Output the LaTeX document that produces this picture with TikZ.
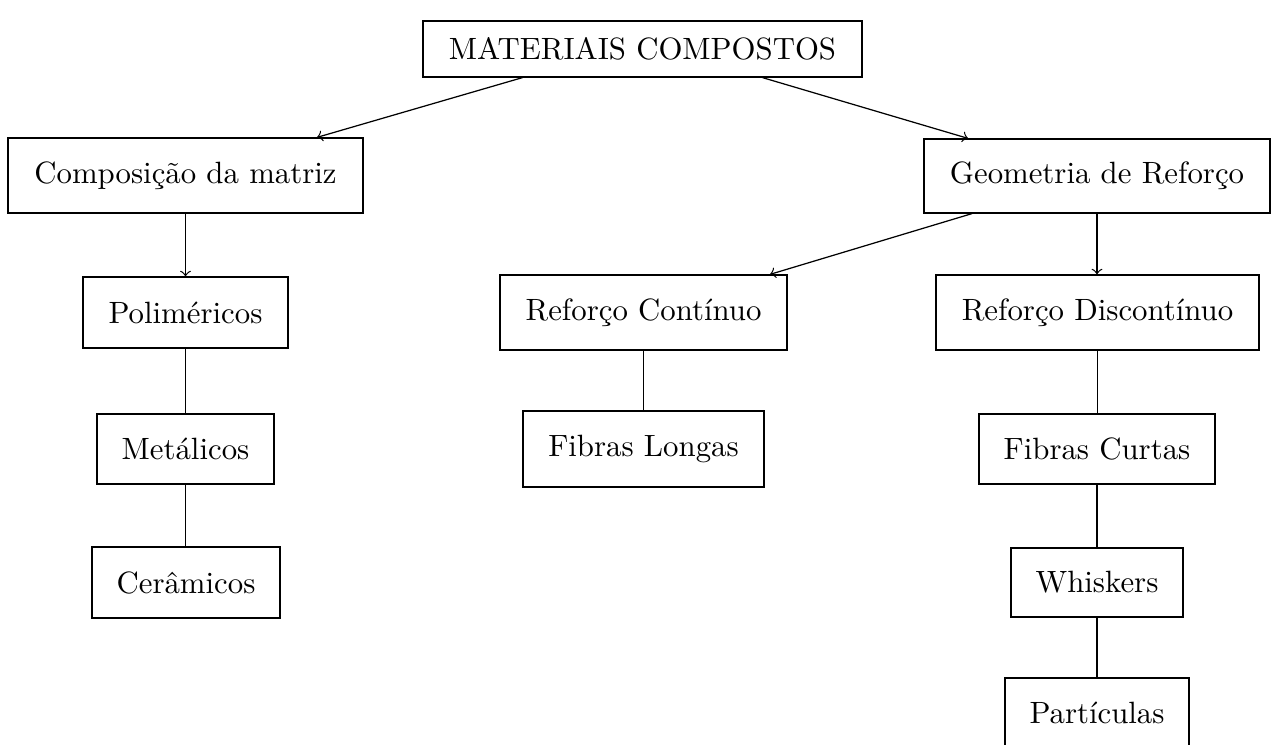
\documentclass[tikz,border=0pt]{standalone}
\usetikzlibrary{calc}
\begin{document}
\begin{tikzpicture}[x=0.3247pt, y=-0.3247pt,
  box/.style={draw, inner sep=0pt, line width=0.4pt},
  link/.style={line width=0.4pt},
  arr/.style={->, line width=0.4pt}]
\useasboundingbox (0,0) rectangle (1276,745);

% root
\node[box, minimum width=439*0.3247pt, minimum height=56*0.3247pt] (top) at (642.5,49) {MATERIAIS COMPOSTOS};

% second level
\node[box, minimum width=355*0.3247pt, minimum height=75*0.3247pt] (comp) at (185.5,175.5) {Composição da matriz};
\node[box, minimum width=346*0.3247pt, minimum height=74*0.3247pt] (geo) at (1097,176) {Geometria de Reforço};

% matrix branch
\node[box, minimum width=205*0.3247pt, minimum height=71*0.3247pt] (poli) at (185.5,312.5) {Poliméricos};
\node[box, minimum width=177*0.3247pt, minimum height=70*0.3247pt] (meta) at (185.5,449) {Metálicos};
\node[box, minimum width=188*0.3247pt, minimum height=71*0.3247pt] (cera) at (186,582.5) {Cerâmicos};

% reinforcement branch
\node[box, minimum width=287*0.3247pt, minimum height=75*0.3247pt] (rcont) at (643.5,312.5) {Reforço Contínuo};
\node[box, minimum width=241*0.3247pt, minimum height=76*0.3247pt] (flong) at (643.5,449) {Fibras Longas};
\node[box, minimum width=323*0.3247pt, minimum height=75*0.3247pt] (rdisc) at (1097.5,312.5) {Reforço Discontínuo};
\node[box, minimum width=236*0.3247pt, minimum height=70*0.3247pt] (fcurt) at (1097,449) {Fibras Curtas};
\node[box, minimum width=172*0.3247pt, minimum height=69*0.3247pt] (whisk) at (1097,582.5) {Whiskers};
\node[box, minimum width=184*0.3247pt, minimum height=70*0.3247pt] (part) at (1097,713) {Partículas};

% arrows
\draw[arr] ($(top.south)+(-120,0)$) -- ($(comp.north)+(131.5,0)$);
\draw[arr] ($(top.south)+(120,0)$) -- ($(geo.north)+(-129,0)$);
\draw[arr] ($(geo.south)+(-125,0)$) -- ($(rcont.north)+(126.5,0)$);
\draw[arr] (geo.south) -- (geo.south |- rdisc.north);
\draw[arr] (comp.south) -- (comp.south |- poli.north);

% plain links
\draw[link] (poli.south) -- (poli.south |- meta.north);
\draw[link] (meta.south) -- (meta.south |- cera.north);
\draw[link] (rcont.south) -- (rcont.south |- flong.north);
\draw[link] (rdisc.south) -- (rdisc.south |- fcurt.north);
\draw[link] (fcurt.south) -- (fcurt.south |- whisk.north);
\draw[link] (whisk.south) -- (whisk.south |- part.north);
\end{tikzpicture}
\end{document}
